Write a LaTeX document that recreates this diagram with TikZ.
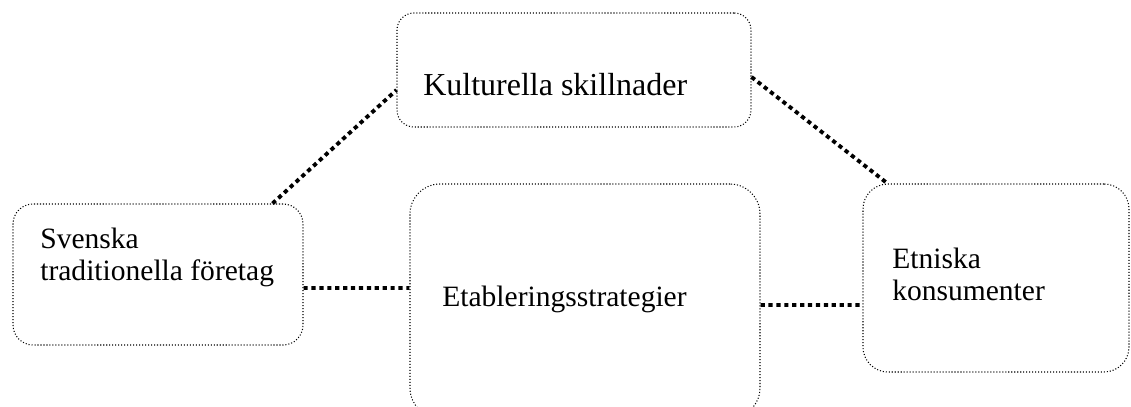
\documentclass[tikz,border=0pt]{standalone}
\usepackage{fontspec}
\setmainfont{Liberation Serif}
\usetikzlibrary{positioning,calc}

\begin{document}
\begin{tikzpicture}[
        box/.style={rectangle, draw, line width=0.6pt, dash pattern=on 0.6pt off 1.1pt,
                    rounded corners=#1, inner sep=0pt},
        box/.default=0.35cm,
        txt/.style={anchor=base west, align=left, inner sep=0pt,
                    font=\fontsize{16.8}{18.1}\selectfont},
        lnk/.style={line width=2.2pt, dash pattern=on 2.4pt off 2.1pt}
    ]

    \useasboundingbox (0,0) rectangle (22.62,-8.14);
    \clip (0,0) rectangle (22.62,-8.14);

    %% ---- boxes ----
    \node[box=0.34cm, minimum width=7.08cm, minimum height=2.28cm] (kult) at (11.48,-1.40) {};
    \node[box=0.40cm, minimum width=5.80cm, minimum height=2.82cm] (sv)   at (3.16,-5.49) {};
    \node[box=0.60cm, minimum width=7.00cm, minimum height=4.68cm] (etab) at (11.70,-6.02) {};
    \node[box=0.50cm, minimum width=5.32cm, minimum height=3.76cm] (etn)  at (19.92,-5.56) {};

    %% ---- texts (base = last line) ----
    \node[txt, font=\fontsize{18.2}{19.6}\selectfont] (kultt) at (8.46,-1.90) {Kulturella skillnader};
    \node[txt] (svt)   at (0.80,-5.60) {Svenska\\traditionella företag};
    \node[txt] (etabt) at (8.84,-6.12) {Etableringsstrategier};
    \node[txt] (etnt)  at (17.84,-6.00) {Etniska\\konsumenter};

    %% ---- links ----
    \draw[lnk] ([xshift=-0.62cm]sv.north east) -- ([yshift=-0.40cm]kult.west);
    \draw[lnk] ([yshift=-0.14cm]kult.east) -- ([xshift=0.50cm]etn.north west);
    \draw[lnk] ([yshift=-0.27cm]sv.east) -- ([yshift=0.26cm]etab.west);
    \draw[lnk] ([yshift=-0.08cm]etab.east) -- ([yshift=-0.54cm]etn.west);

\end{tikzpicture}
\end{document}
